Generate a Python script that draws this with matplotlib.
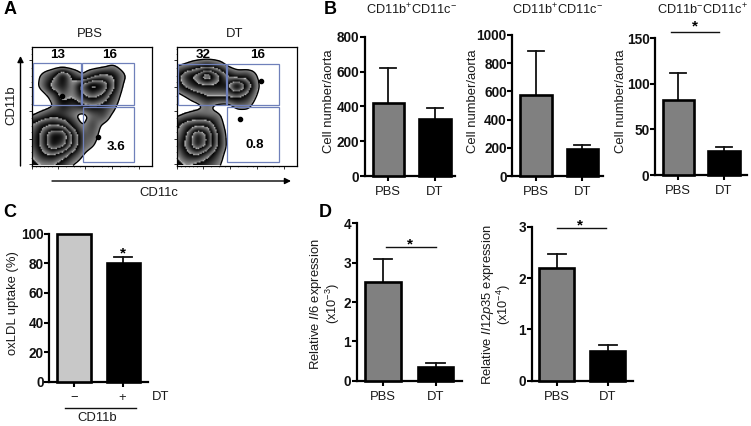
#!/usr/bin/env python3
"""Flow plots and bar panels: CD11b/CD11c cells, oxLDL uptake, Il6 and Il12p35."""
import numpy as np
import matplotlib
matplotlib.use('Agg')
import matplotlib.pyplot as plt
from matplotlib.colors import ListedColormap
from matplotlib.lines import Line2D
from matplotlib.patches import Rectangle, FancyArrowPatch

W, H = 751, 426

plt.rcParams.update({
    'font.family': ['Liberation Sans', 'DejaVu Sans'],
    'mathtext.fontset': 'custom',
    'mathtext.rm': 'Liberation Sans',
    'mathtext.it': 'Liberation Sans:italic',
    'mathtext.bf': 'Liberation Sans:bold',
    'axes.unicode_minus': True,
})

GROUPS = ['PBS', 'DT']

# panel B
CELLS_1_MEAN = [421, 325]
CELLS_1_TOP = [618, 392]
CELLS_2_MEAN = [572, 191]
CELLS_2_TOP = [889, 220]
CELLS_3_MEAN = [82, 26]
CELLS_3_TOP = [112, 31]
# panel C
OXLDL_MEAN = [100, 80]
OXLDL_TOP = [100, 84.5]
# panel D
IL6_MEAN = [2.52, 0.36]
IL6_TOP = [3.1, 0.46]
IL12_MEAN = [2.19, 0.58]
IL12_TOP = [2.46, 0.70]

# flow plot density read by eye, rows top to bottom, 13 x 13 nodes over the frame
DENSITY_PBS = [
    [0, 0, 0, 0, 0, 0, 0, 0, 0, 0, 0, 0, 0],
    [0, 0, 0, 0, 0, 0, 0, 0, 0, 0, 0, 0, 0],
    [0, 0, 0, 0, 0, 0, 0, .2, .7, .2, 0, 0, 0],
    [0, .8, 1.8, 4.5, 2, .6, 2, 3, 2.5, .9, 0, 0, 0],
    [0, 1.0, 3, 4, 2.5, 5, 7, 6, 3, .5, 0, 0, 0],
    [0, 0, 1.0, 3, 2.5, 4, 5, 4, 1.8, .2, 0, 0, 0],
    [0, 0, .4, 2, 1.5, 2, 2.5, 2, 1.0, 0, 0, 0, 0],
    [.5, 1.2, 2, 1.5, .9, 0, 1.0, 1.5, .4, 0, 0, 0, 0],
    [2.5, 4, 4.5, 4, 2, .5, 1.5, .4, 0, 0, 0, 0, 0],
    [3, 5, 8, 8, 4, 1.2, 1.2, .1, 0, 0, 0, 0, 0],
    [3, 5, 8, 7, 4, 1.2, .7, 0, 0, 0, 0, 0, 0],
    [2.5, 4, 4.5, 3.5, 1.8, .6, 0, 0, 0, 0, 0, 0, 0],
    [2, 2.5, 2.5, 1.5, .5, 0, 0, 0, 0, 0, 0, 0, 0],
]
DENSITY_DT = [
    [0, 0, 0, 0, 0, 0, 0, 0, 0, 0, 0, 0, 0],
    [0, 0, 0, 0, 0, 0, 0, 0, 0, 0, 0, 0, 0],
    [.5, .9, 1.6, 2.2, 1.5, .5, 0, 0, .2, 0, 0, 0, 0],
    [2, 4, 5, 8, 5, 2.5, 1.6, 1.8, .5, 0, 0, 0, 0],
    [1.5, 3, 4, 4, 4, 4, 7, 4, .7, 0, 0, 0, 0],
    [0, .7, 1.5, 2.5, 2.5, 2.5, 3, 2, .4, 0, 0, 0, 0],
    [0, 0, .2, .9, .1, 0, .9, .9, 0, 0, 0, 0, 0],
    [.4, .9, 1.2, .9, .9, 0, 0, 0, 0, 0, 0, 0, 0],
    [2, 3.5, 4, 4, 1.5, .1, 0, 0, 0, 0, 0, 0, 0],
    [2.5, 4.5, 8, 6, 2.5, .2, 0, 0, 0, 0, 0, 0, 0],
    [3, 5, 8, 6, 2.5, .3, 0, 0, 0, 0, 0, 0, 0],
    [2.5, 4, 4.5, 3, 1.5, 0, 0, 0, 0, 0, 0, 0, 0],
    [2, 2.5, 2, 1.5, .8, 0, 0, 0, 0, 0, 0, 0, 0],
]
# stray events, frame pixels
DOTS_PBS_X = [30, 66]
DOTS_PBS_Y = [50, 91]
DOTS_DT_X = [84, 63]
DOTS_DT_Y = [35, 73]


def make_axes(left, right, top, bottom):
    return plt.gcf().add_axes([left / W, 1 - bottom / H, (right - left) / W, (bottom - top) / H])


def px_text(x, y, s, **kw):
    kw.setdefault('ha', 'center')
    kw.setdefault('va', 'center')
    kw.setdefault('color', '#1a1a1a')
    plt.gcf().text(x / W, 1 - y / H, s, **kw)


def px_line(x0, x1, y0, y1, lw=1.0):
    plt.gcf().add_artist(Line2D([x0 / W, x1 / W], [1 - y0 / H, 1 - y1 / H], color='#111111', lw=lw))


def bar_panel(box, centers, width, ymax, yticks, means, tops, colors=('#808080', 'black'), xlabels=GROUPS):
    left, right, top, bottom = box
    ax = make_axes(left, right, top, bottom)
    ax.set_xlim(left, right)  # x runs in figure pixels, bars are placed by center
    ax.set_ylim(0, ymax)
    ax.bar(centers, means, width=width, color=colors, edgecolor='black', linewidth=1.9, clip_on=False, zorder=3)
    for c, m, t in zip(centers, means, tops):
        if t > m:
            ax.plot([c, c], [m, t], color='#111111', lw=1.3, clip_on=False, zorder=2)
            ax.plot([c - width * 0.26, c + width * 0.26], [t, t], color='#111111', lw=1.3, clip_on=False, zorder=2)
    for side in ['top', 'right']:
        ax.spines[side].set_visible(False)
    for side in ['left', 'bottom']:
        ax.spines[side].set_linewidth(1.6)
    ax.set_yticks(yticks)
    ax.set_yticklabels([str(v) for v in yticks], fontsize=9.8, fontweight='bold', color='#111111')
    ax.set_xticks(centers)
    ax.set_xticklabels(xlabels, fontsize=9.4, color='#1a1a1a')
    ax.tick_params(axis='y', length=3.5, width=1.5, pad=0.5)
    ax.tick_params(axis='x', length=3.5, width=1.5, pad=4)
    ax.patch.set_alpha(0)
    return ax


def upsample(grid, factor=8):
    """Linear upsample then a small blur, only so the contours of the hand grid look round."""
    grid = np.array(grid, dtype=float)
    n = grid.shape[0]
    coarse = np.arange(n)
    fine = np.linspace(0, n - 1, (n - 1) * factor + 1)
    rows = np.array([np.interp(fine, coarse, r) for r in grid])
    full = np.array([np.interp(fine, coarse, c) for c in rows.T]).T
    kernel = np.hanning(factor + 3)[1:-1]
    kernel = kernel / kernel.sum()
    pad = len(kernel) // 2
    full = np.pad(full, pad, mode='edge')
    full = np.apply_along_axis(lambda v: np.convolve(v, kernel, mode='valid'), 0, full)
    full = np.apply_along_axis(lambda v: np.convolve(v, kernel, mode='valid'), 1, full)
    return fine * 10, full


def flow_panel(left, density, gates, dots_x, dots_y):
    ax = make_axes(left, left + 120, 46.5, 165.5)
    xs, z = upsample(density)
    # grey at each contour, falling to black, then a thin light line at the next contour
    steps = np.linspace(0, 1, 1024)
    period = 1.9 / 8.4
    phase = (steps % period) / period
    grays = 0.55 * (1 - phase) ** 1.4
    grays[phase > 0.94] = 0.72
    cmap = ListedColormap(np.column_stack([grays, grays, grays]))
    ax.imshow(np.ma.masked_less(z, 0.6), cmap=cmap, vmin=0.6, vmax=9.0, extent=(0, 120, 120, 0),
              interpolation='bilinear', aspect='auto', zorder=1)
    ax.contour(xs, xs, z, levels=[0.6], colors='black', linewidths=1.0, zorder=2)
    ax.scatter(dots_x, dots_y, s=9, color='black', zorder=3)
    for (x0, x1, y0, y1) in gates:
        ax.add_patch(Rectangle((x0, y0), x1 - x0, y1 - y0, fill=False, edgecolor='#6f80ba', lw=0.9, zorder=4))
    ax.set_xlim(0, 120)
    ax.set_ylim(120, 0)
    for s in ax.spines.values():
        s.set_linewidth(0.9)
    ax.set_xticks([0, 26, 53, 80, 107])
    ax.set_xticks([4, 8, 12, 16, 20, 34, 42, 48, 61, 70, 76, 88, 96, 102], minor=True)
    ax.set_yticks([14, 41, 65, 93, 118])
    ax.set_yticks([3, 8, 22, 30, 36, 50, 58, 72, 80, 86, 100, 106, 112], minor=True)
    ax.tick_params(which='major', length=2, width=0.7, labelbottom=False, labelleft=False, color='#333333')
    ax.tick_params(which='minor', length=1, width=0.5, color='#555555')
    return ax


def px_arrow(fig, start, end):
    fig.add_artist(FancyArrowPatch((start[0] / W, 1 - start[1] / H), (end[0] / W, 1 - end[1] / H),
                                   transform=fig.transFigure, arrowstyle='-|>', mutation_scale=9,
                                   lw=1.0, color='black', shrinkA=0, shrinkB=0))


fig = plt.figure(figsize=(W / 100, H / 100), dpi=100)

# A
GATE_SPANS_PBS = [(1, 48.3, 16.7, 58.7), (50, 102, 16.7, 58.7), (51, 102, 60.7, 116.7)]
GATE_SPANS_DT = [(1, 48.3, 17.3, 58.7), (50, 102, 17.3, 58.7), (50, 102, 60.7, 116.7)]
flow_panel(32.3, DENSITY_PBS, GATE_SPANS_PBS, DOTS_PBS_X, DOTS_PBS_Y)
flow_panel(177.3, DENSITY_DT, GATE_SPANS_DT, DOTS_DT_X, DOTS_DT_Y)
px_text(90, 34, 'PBS', fontsize=9.4)
px_text(235, 34, 'DT', fontsize=9.4)
for x, y, s in [(57.5, 55.5, '13'), (110, 55.5, '16'), (116, 146.5, '3.6'),
                (203, 55.5, '32'), (258, 55.5, '16'), (255, 145, '0.8')]:
    px_text(x, y, s, fontsize=9.6, fontweight='bold', color='black')
px_text(11, 105, 'CD11b', fontsize=9.4, rotation=90)
px_text(159, 193, 'CD11c', fontsize=9.4)
px_arrow(fig, (20.5, 166), (20.5, 56))
px_arrow(fig, (52, 181), (291, 181))

# B
bar_panel((365, 455, 36.7, 176), [388.3, 435], 31.5, 800, [0, 200, 400, 600, 800], CELLS_1_MEAN, CELLS_1_TOP)
bar_panel((512.3, 603, 35, 176), [536, 582.3], 31.5, 1000, [0, 200, 400, 600, 800, 1000], CELLS_2_MEAN, CELLS_2_TOP)
bar_panel((655, 746.7, 38.3, 175), [678.3, 724], 31.5, 150, [0, 50, 100, 150], CELLS_3_MEAN, CELLS_3_TOP)
for x, y in [(329, 101), (473, 101), (620.7, 101)]:
    px_text(x, y, 'Cell number/aorta', fontsize=9.4, rotation=90)
px_text(411.7, 10, 'CD11b$^{+}$CD11c$^{-}$', fontsize=9.2)
px_text(558, 10, 'CD11b$^{+}$CD11c$^{-}$', fontsize=9.2)
px_text(703, 10, 'CD11b$^{-}$CD11c$^{+}$', fontsize=9.2)
px_line(671, 719, 31.5, 31.5)
px_text(695, 26, '*', fontsize=11, fontweight='bold', color='black')

# C
bar_panel((49.3, 147.7, 233.7, 381.7), [74, 123], 33, 100, [0, 20, 40, 60, 80, 100], OXLDL_MEAN, OXLDL_TOP,
          colors=('#c8c8c8', 'black'), xlabels=['', ''])
px_text(12.7, 303, 'oxLDL uptake (%)', fontsize=9.4, rotation=90)
px_text(74, 398, '\u2212', fontsize=9.4)
px_text(122, 398, '+', fontsize=9.4)
px_text(161, 397, 'DT', fontsize=9.4)
px_line(65, 136, 408, 408)
px_text(97, 418, 'CD11b', fontsize=9.4)
px_text(123, 253, '*', fontsize=11, fontweight='bold', color='black')

# D
bar_panel((356.7, 461.7, 223.3, 380.7), [383, 435.7], 35.5, 4, [0, 1, 2, 3, 4], IL6_MEAN, IL6_TOP)
bar_panel((531.7, 633, 226.7, 380.7), [557, 608], 35, 3, [0, 1, 2, 3], IL12_MEAN, IL12_TOP)
px_text(316, 304, r'Relative $\mathit{Il6}$ expression', fontsize=9.4, rotation=90)
px_text(333, 304, '(x10$^{-3}$)', fontsize=9.2, rotation=90)
px_text(488, 305, r'Relative $\mathit{Il12p35}$ expression', fontsize=9.4, rotation=90)
px_text(504, 305, '(x10$^{-4}$)', fontsize=9.2, rotation=90)
px_line(386, 435.7, 246.7, 246.7)
px_text(409.7, 244, '*', fontsize=11, fontweight='bold', color='black')
px_line(556.7, 605.7, 227.7, 227.7)
px_text(580, 225, '*', fontsize=11, fontweight='bold', color='black')

# panel letters
for x, y, s in [(10, 10, 'A'), (330, 9, 'B'), (10, 212, 'C'), (325, 212, 'D')]:
    px_text(x, y, s, fontsize=13, fontweight='bold', color='black')

fig.savefig('out.png', dpi=100)
